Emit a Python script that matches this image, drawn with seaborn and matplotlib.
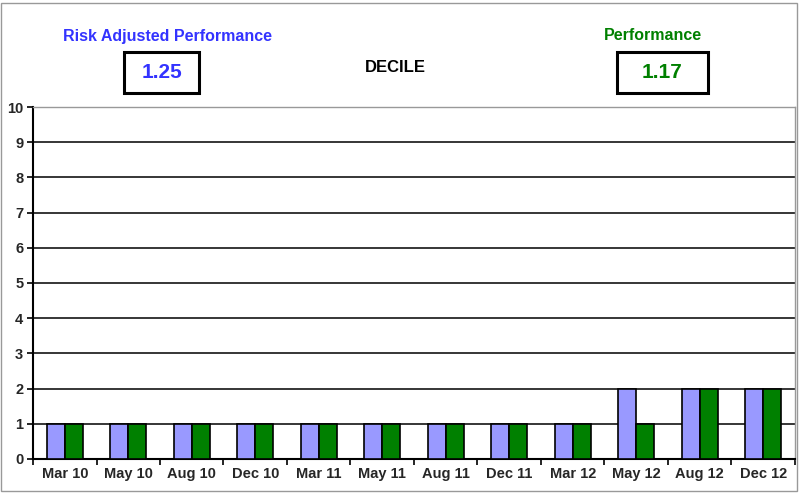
import seaborn as sns
import pandas as pd
import matplotlib.pyplot as plt
from matplotlib.patches import Rectangle

# quarters and decile scores
quarters = ["Mar 10", "May 10", "Aug 10", "Dec 10", "Mar 11", "May 11",
            "Aug 11", "Dec 11", "Mar 12", "May 12", "Aug 12", "Dec 12"]
risk_adj = [1, 1, 1, 1, 1, 1, 1, 1, 1, 2, 2, 2]
perf = [1, 1, 1, 1, 1, 1, 1, 1, 1, 1, 2, 2]
risk_adj_score = "1.25"
perf_score = "1.17"

df = pd.DataFrame({
    "quarter": quarters * 2,
    "decile": risk_adj + perf,
    "series": ["Risk Adjusted"] * len(quarters) + ["Performance"] * len(quarters),
})

sns.set_style("white")
plt.rcParams["font.family"] = ["Liberation Sans", "DejaVu Sans"]

fig = plt.figure(figsize=(8.03, 4.94), dpi=100)
ax = fig.add_axes([0.0411, 0.0709, 0.9489, 0.7125])

sns.barplot(data=df, x="quarter", y="decile", hue="series",
            palette=["#9999FF", "#008000"], saturation=1, width=0.57, gap=0,
            edgecolor="black", linewidth=1.2, legend=False, ax=ax, zorder=3)

ax.set_ylim(0, 10)
ax.set_xlim(-0.5, len(quarters) - 0.5)
ax.set_yticks(range(0, 11))
ax.yaxis.grid(True, color="black", linewidth=1.1, zorder=0)
ax.set_axisbelow(True)
ax.set_xlabel("")
ax.set_ylabel("")

# ticks between categories, labels centred under them
ax.set_xticks([i + 0.5 for i in range(-1, len(quarters))], minor=False)
ax.set_xticklabels([])
ax.set_xticks(range(len(quarters)), minor=True)
ax.set_xticklabels(quarters, minor=True, fontsize=10.5, fontweight="bold")
ax.tick_params(axis="x", which="minor", bottom=True, length=0, pad=6)
ax.tick_params(axis="x", which="major", bottom=True, direction="out",
               length=4, width=1.2, color="black")
ax.tick_params(axis="y", left=True, direction="out", length=4, width=1.2,
               color="black", labelsize=10.5, pad=3)
for lab in ax.get_yticklabels():
    lab.set_fontweight("bold")

for side in ["top", "right"]:
    ax.spines[side].set_visible(True)
    ax.spines[side].set_color("#999999")
    ax.spines[side].set_linewidth(1)
ax.spines["left"].set_color("black")
ax.spines["left"].set_linewidth(1.5)
ax.spines["bottom"].set_color("black")
ax.spines["bottom"].set_linewidth(1.5)

# header texts and score boxes
fig.text(168 / 803, 1 - 36 / 494, "Risk Adjusted Performance", color="#3333FF",
         fontsize=11.5, fontweight="bold", ha="center", va="center")
fig.text(162 / 803, 1 - 73 / 494, risk_adj_score, color="#3333FF",
         fontsize=15, fontweight="bold", ha="center", va="center")
fig.patches.append(Rectangle((124 / 803, 1 - 93 / 494), 75 / 803, 41 / 494,
                             transform=fig.transFigure, fill=False,
                             edgecolor="black", linewidth=2.2))

fig.text(395 / 803, 1 - 68 / 494, "DECILE", color="black",
         fontsize=12, fontweight="bold", ha="center", va="center")

fig.text(653 / 803, 1 - 36 / 494, "Performance", color="#008000",
         fontsize=11.5, fontweight="bold", ha="center", va="center")
fig.text(662 / 803, 1 - 73 / 494, perf_score, color="#008000",
         fontsize=15, fontweight="bold", ha="center", va="center")
fig.patches.append(Rectangle((617 / 803, 1 - 93 / 494), 91 / 803, 41 / 494,
                             transform=fig.transFigure, fill=False,
                             edgecolor="black", linewidth=2.2))

# outer chart frame
fig.patches.append(Rectangle((1 / 803, 3 / 494), 796 / 803, 488 / 494,
                             transform=fig.transFigure, fill=False,
                             edgecolor="#999999", linewidth=1))

fig.savefig("out.png", dpi=100)
